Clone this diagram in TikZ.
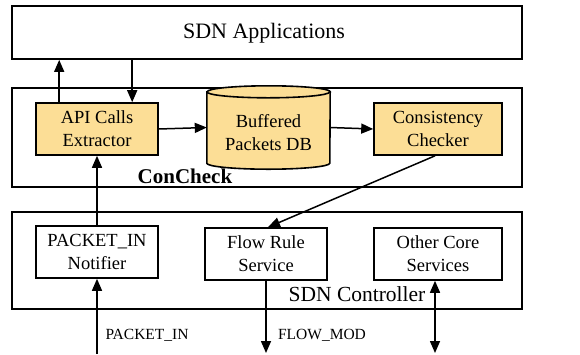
\documentclass[tikz,border=0pt]{standalone}
\usepackage{fontspec}
\setmainfont{Liberation Serif}
\usetikzlibrary{arrows.meta,calc}
\definecolor{boxfill}{RGB}{252,222,150}
\tikzset{
  layer/.style={draw,line width=1.8pt,minimum width=510pt,inner sep=0pt},
  comp/.style={draw,line width=1.6pt,align=center,inner sep=0pt,
    font=\fontsize{18.5}{23}\selectfont},
  hot/.style={comp,fill=boxfill},
  tip/.tip={Triangle[length=12pt,width=10pt]},
  arr/.style={line width=1.5pt,-tip},
  dblarr/.style={line width=1.5pt,tip-tip},
  lbl/.style={inner sep=0pt,font=\fontsize{15.5}{18}\selectfont},
}
\begin{document}
\begin{tikzpicture}[x=1pt,y=-1pt]
\useasboundingbox[fill=white] (0,0) rectangle (580,354);

% three layers
\node[layer,minimum height=53pt] (apps) at (267,32.5) {};
\node[font=\fontsize{22}{26}\selectfont] (appstxt) at (264,33) {SDN Applications};
\node[layer,minimum height=99pt] (cc) at (267,137.5) {};
\node[layer,minimum height=97pt] (ctl) at (267,260.5) {};
\node[inner sep=0pt,font=\bfseries\fontsize{21}{25}\selectfont] (cclbl) at (185,176) {ConCheck};
\node[inner sep=0pt,font=\fontsize{21.5}{25}\selectfont] (ctllbl) at (357,294) {SDN Controller};

% ConCheck components
\node[hot,minimum width=122pt,minimum height=52pt] (api) at (97,129) {API Calls\\Extractor};
\node[inner sep=0pt,minimum width=123pt,minimum height=59pt] (db) at (268.5,127.5) {};
% cylinder body (y axis points down here)
\filldraw[fill=boxfill,line width=1.6pt]
  ([yshift=6]db.north west) -- ([yshift=-6]db.south west)
  arc[start angle=180,end angle=0,x radius=61.5,y radius=6]
  -- ([yshift=6]db.north east)
  arc[start angle=0,end angle=-180,x radius=61.5,y radius=6] -- cycle;
\draw[line width=1.6pt] ([yshift=6]db.north west)
  arc[start angle=180,end angle=0,x radius=61.5,y radius=6];
\node[comp,draw=none] (dbtxt) at (268.5,133) {Buffered\\Packets DB};
\node[hot,minimum width=128pt,minimum height=52pt] (chk) at (438,129) {Consistency\\Checker};

% controller components
\node[comp,minimum width=122pt,minimum height=52pt] (note) at (97,252) {PACKET\_IN\\Notifier};
\node[comp,minimum width=122pt,minimum height=52pt] (frs) at (266,254) {Flow Rule\\Service};
\node[comp,minimum width=128pt,minimum height=52pt] (ocs) at (438,254) {Other Core\\Services};

% free ends at the bottom
\coordinate (pin) at (97,354);
\coordinate (fmod) at (266,353);
\coordinate (oend) at (435,353);

% connectors
\draw[arr] ([xshift=24]api.north west) -- ([xshift=24]api.north west |- apps.south);
\draw[arr] ([xshift=97]api.north west |- apps.south) -- ([xshift=97]api.north west);
\draw[arr] (api.east) -- (db.west);
\draw[arr] (db.east) -- (chk.west);
\draw[arr] ([xshift=-3]chk.south) -- ([xshift=2]frs.north);
\draw[arr] (note.north) -- (api.south);
\draw[arr] (pin) -- (note.south);
\draw[arr] (frs.south) -- (fmod);
\draw[dblarr] ([xshift=-3]ocs.south) -- (oend);

% message labels
\node[lbl] (pinlbl) at (147,335) {PACKET\_IN};
\node[lbl] (fmlbl) at (322,335) {FLOW\_MOD};
\end{tikzpicture}
\end{document}
